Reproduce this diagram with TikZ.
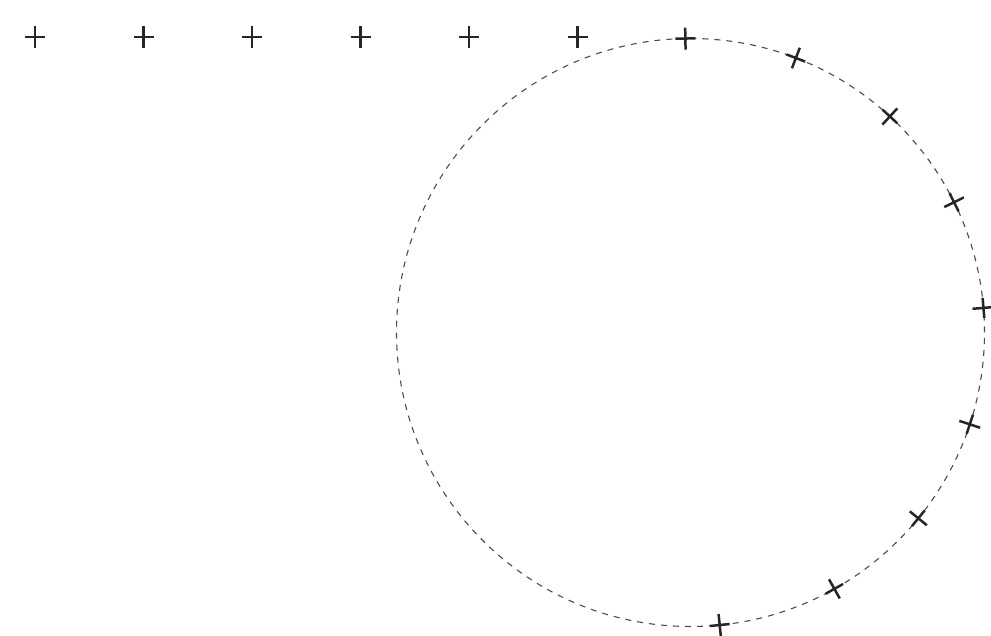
\documentclass[tikz,border=0pt]{standalone}
\usetikzlibrary{calc}
\begin{document}
\begin{tikzpicture}[x=1pt,y=1pt,
  markline/.style={line width=2.5pt,black!85},
  crossmark/.pic={\draw[markline] (-10,0)--(10,0) (0,-11)--(0,11);},
  rim/.style={draw=gray!60!black,line width=1.1pt,dash pattern=on 6pt off 6pt}]
\useasboundingbox (0,0) rectangle (991,636);
\coordinate (c) at (690.5,303.5);
\draw[rim] (c) circle (294);
\foreach \i in {0,...,5}
  \pic at ({35+108.5*\i},599) {crossmark};
\foreach \a in {91,69,47.3,26.3,4.8,-18.2,-39.2,-60.7,-84.3}
  \pic[rotate={\a-90}] at ($(c)+(\a:294)$) {crossmark};
\end{tikzpicture}
\end{document}
